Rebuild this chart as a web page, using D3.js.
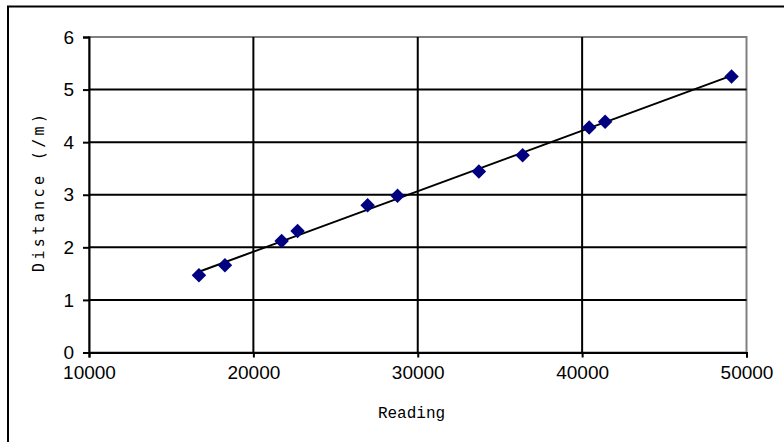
<!DOCTYPE html>
<html>
<head>
<meta charset="utf-8">
<script src="https://cdn.jsdelivr.net/npm/d3@7"></script>
<style>
  body { margin: 0; background: #fff; }
  svg { display: block; }
</style>
</head>
<body>
<svg width="784" height="442"></svg>
<script>
var readings  = [16690, 18270, 21720, 22690, 26950, 28770, 33720, 36380, 40430, 41400, 49090];
var distances = [1.47, 1.66, 2.12, 2.31, 2.80, 2.98, 3.44, 3.75, 4.28, 4.39, 5.25];
var xTicks = [10000, 20000, 30000, 40000, 50000];
var yTicks = [0, 1, 2, 3, 4, 5, 6];

var svg = d3.select("svg"),
    margin = {top: 37, right: 37.5, bottom: 89.5, left: 89},
    width = +svg.attr("width") - margin.left - margin.right,
    height = +svg.attr("height") - margin.top - margin.bottom;

// outer chart frame (runs off the right and bottom of the picture)
svg.append("rect")
  .attr("x", 8).attr("y", 6.5)
  .attr("width", 820).attr("height", 500)
  .attr("fill", "none")
  .attr("stroke", "#000")
  .attr("stroke-width", 2);

var g = svg.append("g").attr("transform", "translate(" + margin.left + "," + margin.top + ")");

var x = d3.scaleLinear().domain([10000, 50000]).range([0, width]);
var y = d3.scaleLinear().domain([0, 6]).range([height, 0]);

// plot area border (grey top/right)
g.append("rect")
  .attr("width", width).attr("height", height)
  .attr("fill", "#fff")
  .attr("stroke", "#808080")
  .attr("stroke-width", 2);

// gridlines
g.append("g")
  .selectAll("line.h")
  .data(yTicks.slice(1, -1))
  .join("line")
  .attr("x1", 0).attr("x2", width)
  .attr("y1", function(d) { return y(d); })
  .attr("y2", function(d) { return y(d); })
  .attr("stroke", "#000").attr("stroke-width", 2);

g.append("g")
  .selectAll("line.v")
  .data(xTicks.slice(1, -1))
  .join("line")
  .attr("y1", 0).attr("y2", height)
  .attr("x1", function(d) { return x(d); })
  .attr("x2", function(d) { return x(d); })
  .attr("stroke", "#000").attr("stroke-width", 2);

// axes
var xAxis = g.append("g")
  .attr("transform", "translate(0," + height + ")")
  .call(d3.axisBottom(x).tickValues(xTicks).tickFormat(d3.format("d")).tickSizeOuter(0).tickSize(5).tickPadding(8));

var yAxis = g.append("g")
  .call(d3.axisLeft(y).tickValues(yTicks).tickFormat(d3.format("d")).tickSizeOuter(0).tickSize(6).tickPadding(9));

[xAxis, yAxis].forEach(function(a) {
  a.selectAll(".domain").attr("stroke", "#000").attr("stroke-width", 2);
  a.selectAll(".tick line").attr("stroke", "#000").attr("stroke-width", 2);
  a.selectAll(".tick text")
    .attr("fill", "#000")
    .style("font-family", "'Liberation Sans', Arial, sans-serif")
    .style("font-size", "19px");
});

// linear trendline through the data
var mx = d3.mean(readings),
    my = d3.mean(distances),
    sxy = d3.sum(readings, function(r, i) { return (r - mx) * (distances[i] - my); }),
    sxx = d3.sum(readings, function(r) { return (r - mx) * (r - mx); }),
    slope = sxy / sxx,
    icpt = my - slope * mx;
var xr = d3.extent(readings);

g.append("path")
  .datum(xr.map(function(r) { return [r, icpt + slope * r]; }))
  .attr("fill", "none")
  .attr("stroke", "#000")
  .attr("stroke-width", 2)
  .attr("d", d3.line().x(function(d) { return x(d[0]); }).y(function(d) { return y(d[1]); }));

// diamond markers
g.append("g")
  .selectAll("path")
  .data(readings)
  .join("path")
  .attr("transform", function(r, i) { return "translate(" + x(r) + "," + y(distances[i]) + ") rotate(45)"; })
  .attr("d", d3.symbol().type(d3.symbolSquare).size(105))
  .attr("fill", "#000080");

// axis titles
svg.append("text")
  .attr("x", 411.5).attr("y", 418)
  .attr("text-anchor", "middle")
  .style("font-family", "'Liberation Mono', 'Courier New', monospace")
  .style("font-size", "16px")
  .text("Reading");

svg.append("text")
  .attr("transform", "translate(44,193) rotate(-90)")
  .attr("text-anchor", "middle")
  .attr("textLength", 158)
  .attr("lengthAdjust", "spacing")
  .style("font-family", "'DejaVu Sans Mono', monospace")
  .style("font-size", "15px")
  .text("Distance (/m)");
</script>
</body>
</html>
